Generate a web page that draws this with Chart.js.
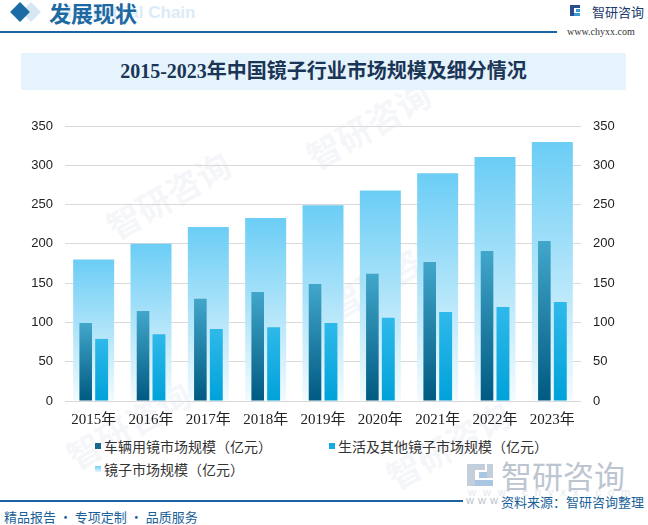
<!DOCTYPE html>
<html>
<head>
<meta charset="utf-8">
<script src="https://cdn.jsdelivr.net/npm/chart.js@4.4.1/dist/chart.umd.min.js"></script>
<style>
  html,body{margin:0;padding:0;background:#fff;}
  body{width:648px;height:525px;position:relative;overflow:hidden;font-family:"Noto Sans CJK SC","Noto Sans",sans-serif;}
  .abs{position:absolute;white-space:nowrap;}
  #chartBox{position:absolute;left:0;top:100px;width:648px;height:335px;}
  .wm{position:absolute;color:rgba(200,212,226,0.2);font-weight:bold;font-size:34px;transform:rotate(-30deg);white-space:nowrap;}
</style>
</head>
<body>
<script>
// ---- data ----
const categories = ['2015年','2016年','2017年','2018年','2019年','2020年','2021年','2022年','2023年'];
const vehicleMarket = [99.3, 114.5, 130, 138.7, 149, 162, 177, 191, 203.6];
const lifeOtherMarket = [79, 85, 91.6, 94, 99.4, 105.8, 113.4, 119.6, 126];
const mirrorMarket = [180, 200, 221.5, 233, 249, 268, 290, 310.5, 329.6];
const yTicks = [0, 50, 100, 150, 200, 250, 300, 350];
const seriesNames = ['车辆用镜市场规模（亿元）', '生活及其他镜子市场规模（亿元）', '镜子市场规模（亿元）'];
</script>

<!-- faint watermarks -->
<div class="wm" style="left:100px;top:170px;">智研咨询</div>
<div class="wm" style="left:320px;top:250px;">智研咨询</div>
<div class="wm" style="left:300px;top:100px;">智研咨询</div>
<div class="wm" style="left:60px;top:400px;">智研咨询</div>
<div class="wm" style="left:380px;top:420px;">智研咨询</div>

<!-- header -->
<div class="abs" style="left:24px;top:5px;width:14px;height:14px;background:#d6e6f3;transform:rotate(45deg);"></div>
<div class="abs" style="left:13px;top:5px;width:14px;height:14px;background:#1b6ba6;transform:rotate(45deg);"></div>
<div class="abs" style="left:67px;top:3px;font-size:17px;font-weight:bold;color:#dcebf7;font-family:'Liberation Sans',sans-serif;">Industrial Chain</div>
<div class="abs" style="left:49px;top:-3px;font-size:22px;font-weight:bold;color:#1d6aa3;line-height:30px;">发展现状</div>
<div class="abs" style="left:0;top:31px;width:557px;height:2px;background:#1a63a0;"></div>
<!-- logo top right -->
<div class="abs" style="left:570px;top:5px;width:4px;height:11px;background:#2b4d8e;"></div>
<div class="abs" style="left:574px;top:5px;width:6px;height:3px;background:#2b4d8e;"></div>
<div class="abs" style="left:576px;top:9px;width:4px;height:3px;background:#3a9ad9;"></div>
<div class="abs" style="left:574px;top:13px;width:6px;height:3px;background:#3a9ad9;"></div>
<div class="abs" style="left:592px;top:3px;font-size:13px;color:#1a3a6c;line-height:18px;">智研咨询</div>
<div class="abs" style="left:567px;top:25px;font-size:10px;color:#333;font-family:'Liberation Serif',serif;line-height:14px;">www.chyxx.com</div>

<!-- title band -->
<div class="abs" style="left:21px;top:53px;width:605px;height:37px;background:#e5f3fc;"></div>
<div class="abs" style="left:21px;top:53px;width:605px;height:37px;line-height:37px;text-align:center;font-size:20px;font-weight:bold;color:#1b3556;font-family:'Liberation Serif','Noto Sans CJK SC',serif;">2015-2023年中国镜子行业市场规模及细分情况</div>

<div id="chartBox"><canvas id="c" width="648" height="335"></canvas></div>

<!-- legend (from series names) -->
<div id="legend"></div>

<!-- big watermark logo bottom right -->
<div class="abs" style="left:467px;top:464px;width:8px;height:22px;background:#c3cedb;"></div>
<div class="abs" style="left:475px;top:464px;width:10px;height:6px;background:#c3cedb;"></div>
<div class="abs" style="left:479px;top:472px;width:8px;height:6px;background:#a9c6e3;"></div>
<div class="abs" style="left:475px;top:480px;width:18px;height:6px;background:#a9c6e3;"></div>
<div class="abs" style="left:487px;top:464px;width:6px;height:14px;background:#c3cedb;"></div>
<div class="abs" style="left:501px;top:456px;font-size:31px;color:#bcc5d0;line-height:38px;">智研咨询</div>
<div class="abs" style="left:468px;top:486px;font-size:11px;color:#e3e8ee;letter-spacing:7px;font-family:'Liberation Sans',sans-serif;">www.chyxx.com</div>

<!-- footer -->
<div class="abs" style="left:0;top:500px;width:463px;height:2px;background:#1a63a0;"></div>
<div class="abs" style="left:466px;top:494px;font-size:11px;color:#b9c2cc;letter-spacing:4px;font-family:'Liberation Sans',sans-serif;">www</div>
<div class="abs" style="left:501px;top:493px;font-size:13px;color:#1a5f99;line-height:18px;">资料来源：智研咨询整理</div>
<div class="abs" style="left:4px;top:508px;font-size:13px;color:#1a5f99;line-height:18px;">精品报告 · 专项定制 · 品质服务</div>

<script>
function barGradient(topColor, bottomColor) {
  return function(ctx) {
    const chart = ctx.chart;
    if (!chart.chartArea || ctx.raw == null) return topColor;
    const y = chart.scales.y;
    const top = y.getPixelForValue(ctx.raw);
    const base = y.getPixelForValue(0);
    if (!isFinite(top) || !isFinite(base) || top === base) return topColor;
    const g = chart.ctx.createLinearGradient(0, top, 0, base);
    g.addColorStop(0, topColor);
    g.addColorStop(1, bottomColor);
    return g;
  };
}

const legendMarkers = [
  'background:#14698f;',
  'background:#12aee3;',
  'background:linear-gradient(#6ccef5,#e6f5fd);'
];
const legendPos = [[95,446],[329,446],[95,469]];
const legendEl = document.getElementById('legend');
seriesNames.forEach((name, i) => {
  const [x, y] = legendPos[i];
  const m = document.createElement('div');
  m.className = 'abs';
  m.style.cssText = `left:${x}px;top:${y-3}px;width:6px;height:6px;${legendMarkers[i]}`;
  legendEl.appendChild(m);
  const t = document.createElement('div');
  t.className = 'abs';
  t.style.cssText = `left:${x+9}px;top:${y-10}px;font-size:14px;line-height:20px;color:#333;`;
  t.textContent = name;
  legendEl.appendChild(t);
});

const tickFont = {family: "'Liberation Sans', Arial, sans-serif", size: 13};

new Chart(document.getElementById('c'), {
  type: 'bar',
  data: {
    labels: categories,
    datasets: [
      {
        label: seriesNames[0],
        data: vehicleMarket,
        backgroundColor: barGradient('#42a6cb', '#005a81'),
        categoryPercentage: 0.556,
        barPercentage: 0.79,
        order: 1
      },
      {
        label: seriesNames[1],
        data: lifeOtherMarket,
        backgroundColor: barGradient('#2fb9ea', '#00a2da'),
        categoryPercentage: 0.556,
        barPercentage: 0.81,
        order: 1
      },
      {
        label: seriesNames[2],
        data: mirrorMarket,
        grouped: false,
        backgroundColor: barGradient('#6bcdf5', '#f3fbfe'),
        categoryPercentage: 1.0,
        barPercentage: 0.715,
        order: 2
      }
    ]
  },
  options: {
    responsive: false,
    animation: false,
    devicePixelRatio: 1,
    layout: {padding: {top: 26, left: 0, right: 0, bottom: 0}},
    plugins: {legend: {display: false}, tooltip: {enabled: false}},
    scales: {
      x: {
        position: 'bottom',
        grid: {display: false, drawTicks: false},
        border: {display: false},
        ticks: {
          font: {family: "'Liberation Serif', 'Noto Sans CJK SC', serif", size: 15},
          color: '#222',
          padding: 10,
          maxRotation: 0
        },
        afterFit: s => { s.height = 34; }
      },
      y: {
        position: 'left',
        min: 0, max: 350,
        afterBuildTicks: s => { s.ticks = yTicks.map(v => ({value: v})); },
        grid: {color: '#d9d9d9', lineWidth: 1, drawTicks: false},
        border: {display: false},
        ticks: {font: tickFont, color: '#222', padding: 12},
        afterFit: s => { s.width = 65; }
      },
      y2: {
        position: 'right',
        min: 0, max: 350,
        afterBuildTicks: s => { s.ticks = yTicks.map(v => ({value: v})); },
        grid: {display: false, drawTicks: false},
        border: {display: false},
        ticks: {font: tickFont, color: '#222', padding: 12},
        afterFit: s => { s.width = 67; }
      }
    }
  }
});
</script>
</body>
</html>
